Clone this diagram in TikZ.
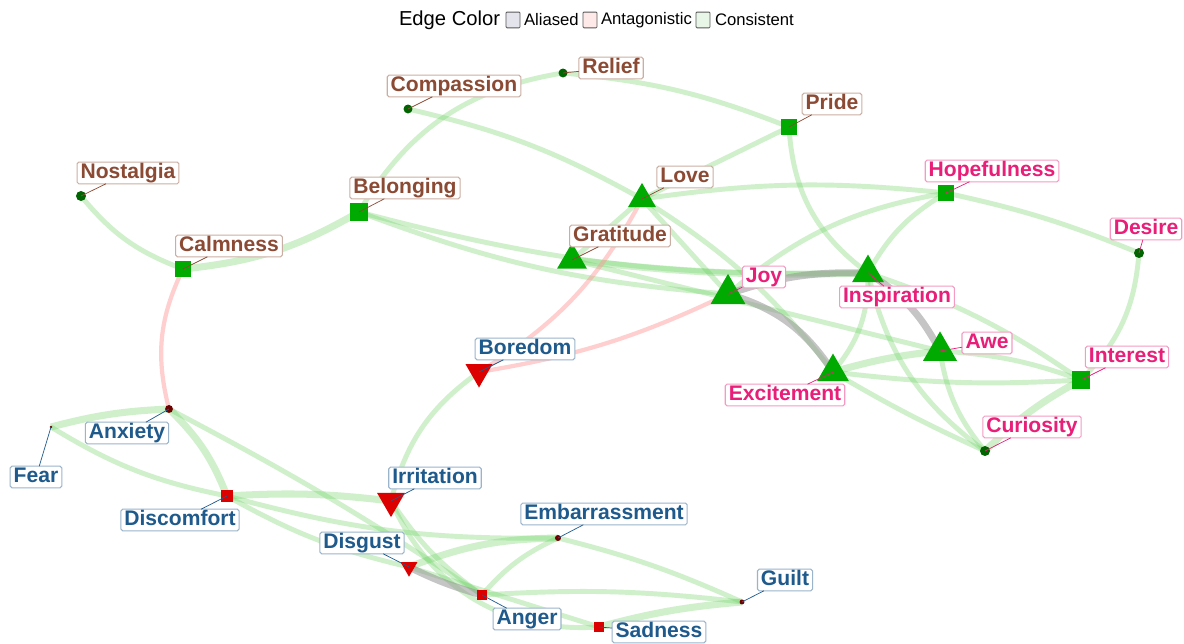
\documentclass[tikz,border=0pt]{standalone}
\usepackage{fontspec}
\setmainfont{Liberation Sans}
\usetikzlibrary{shapes.geometric, backgrounds}

\definecolor{brownlab}{RGB}{139,74,51}
\definecolor{pinklab}{RGB}{232,30,120}
\definecolor{bluelab}{RGB}{30,90,140}
\definecolor{nodegreen}{RGB}{0,170,0}
\definecolor{dotgreen}{RGB}{0,100,0}
\definecolor{nodered}{RGB}{220,0,0}
\definecolor{dotred}{RGB}{110,0,0}
\definecolor{consgreen}{RGB}{110,210,100}
\definecolor{antared}{RGB}{255,150,150}
\definecolor{aliasgrey}{RGB}{150,150,150}
\definecolor{legalias}{RGB}{228,228,236}
\definecolor{legant}{RGB}{255,232,232}
\definecolor{legcons}{RGB}{232,246,232}

\begin{document}
\begin{tikzpicture}
[x=0.02cm, y=-0.02cm,
every node/.style={inner sep=0pt, outer sep=0pt},
gdot/.style={circle, fill=dotgreen, minimum size=#1},
rdot/.style={circle, fill=dotred, minimum size=#1},
gsq/.style={rectangle, fill=nodegreen, minimum size=#1},
rsq/.style={rectangle, fill=nodered, minimum size=#1},
gtri/.style={regular polygon, regular polygon sides=3, fill=nodegreen, minimum size=#1},
rtri/.style={regular polygon, regular polygon sides=3, shape border rotate=180, fill=nodered, minimum size=#1},
lab/.style={draw=#1!45, text=#1, fill=white, rounded corners=1pt, line width=0.6pt,
  inner xsep=2pt, inner ysep=0.6pt, text height=8.8pt, text depth=2.3pt,
  font=\bfseries\fontsize{12}{13}\selectfont},
ptr/.style={draw=#1, line width=0.4pt},
cons/.style={draw=consgreen, draw opacity=0.33, line width=2.8pt},
consthick/.style={cons, line width=4pt},
anta/.style={draw=antared, draw opacity=0.45, line width=2.4pt},
alias/.style={draw=aliasgrey, draw opacity=0.55, line width=4pt},
legbox/.style={draw=gray!70!black, line width=0.5pt, minimum width=8pt, minimum height=9pt, rounded corners=0.6pt},
legtxt/.style={anchor=west, font=\fontsize{9.5}{11}\selectfont}
]

\useasboundingbox (0,0) rectangle (1184,644);

% where the emotions sit
\path
(81,196) coordinate (nost)
(183,269) coordinate (calm)
(359,212) coordinate (belong)
(408,109) coordinate (comp)
(563,73) coordinate (relief)
(789,127) coordinate (pride)
(642,199) coordinate (love)
(572,260) coordinate (grat)
(728,294) coordinate (joy)
(868,273) coordinate (insp)
(946,193) coordinate (hope)
(1139,253) coordinate (desire)
(940,351) coordinate (awe)
(833,372) coordinate (excite)
(1081,380) coordinate (interest)
(985,451) coordinate (curio)
(479,372) coordinate (boredom)
(169,409) coordinate (anx)
(51,427) coordinate (fear)
(227,496) coordinate (disc)
(391,501) coordinate (irr)
(409,567) coordinate (disgust)
(558,538) coordinate (embar)
(482,595) coordinate (anger)
(599,627) coordinate (sad)
(742,602) coordinate (guilt)
;

% markers
\path foreach \x/\w in {nost/5.7pt, comp/5.1pt, relief/5.1pt, desire/5.7pt, curio/5.7pt}
{(\x) node[gdot=\w] (n-\x) {}};
\path foreach \x/\w in {anx/4.5pt, fear/1.7pt, embar/3.4pt, guilt/2.8pt}
{(\x) node[rdot=\w] (n-\x) {}};
\path foreach \x/\w in {calm/9.6pt, belong/10.2pt, pride/9.6pt, hope/9.1pt, interest/10.2pt}
{(\x) node[gsq=\w] (n-\x) {}};
\path foreach \x/\w in {disc/6.8pt, anger/6.2pt, sad/5.7pt}
{(\x) node[rsq=\w] (n-\x) {}};
\path foreach \x/\w in {joy/22.9pt, love/18.3pt, grat/19.6pt, insp/21pt, awe/22.3pt, excite/21pt}
{(\x) node[gtri=\w] (n-\x) {}};
\path foreach \x/\w in {boredom/17.7pt, irr/18.3pt, disgust/11.1pt}
{(\x) node[rtri=\w] (n-\x) {}};

% edges behind everything
\begin{pgfonlayer}{background}
\fill[white] (0,0) rectangle (1184,644);
\foreach \a/\b/\t in {nost/calm/-15, belong/relief/25, comp/love/8, relief/pride/8,
  pride/love/0, pride/insp/-25, love/hope/7, love/joy/0, love/excite/10, love/grat/0,
  belong/joy/-8, belong/insp/-8, grat/awe/0, joy/hope/15, insp/hope/15,
  hope/desire/5, desire/interest/20, insp/excite/20, insp/interest/8, insp/curio/-20,
  excite/interest/-5, excite/curio/-3, awe/interest/8, awe/curio/-15,
  boredom/irr/-20, fear/disc/-10, anx/anger/3, disc/embar/-8, disc/disgust/-8,
  irr/anger/-10, irr/sad/-35, disgust/sad/0, anger/embar/12, anger/guilt/5, embar/guilt/5}
  \draw[cons] (n-\a.center) to[bend left=\t] (n-\b.center);
\foreach \a/\b/\t in {calm/belong/-12, grat/insp/-4, excite/awe/5, interest/curio/-8,
  fear/anx/6, anx/disc/12, disc/irr/5, disgust/embar/10, sad/guilt/5}
  \draw[consthick] (n-\a.center) to[bend left=\t] (n-\b.center);
\foreach \a/\b/\t in {calm/anx/-20, love/boredom/15, joy/boredom/8}
  \draw[anta] (n-\a.center) to[bend left=\t] (n-\b.center);
\foreach \a/\b/\t in {joy/insp/10, insp/awe/15, joy/excite/20, disgust/anger/-5}
  \draw[alias] (n-\a.center) to[bend left=\t] (n-\b.center);
\end{pgfonlayer}

% labels with pointers
\foreach \x/\t/\u/\v in {nost/Nostalgia/128/173, calm/Calmness/229/246, belong/Belonging/405/188,
  comp/Compassion/454/86, relief/Relief/611/68, pride/Pride/832/104, love/Love/685/177,
  grat/Gratitude/620/236}
{\node[lab=brownlab] (l-\x) at (\u,\v) {\t};
 \draw[ptr=brownlab] (n-\x.center) -- (l-\x);}
\foreach \x/\t/\u/\v in {joy/Joy/764/277, insp/Inspiration/897/297, hope/Hopefulness/992/171,
  desire/Desire/1146/229, awe/Awe/987/343, interest/Interest/1127/357,
  excite/Excitement/785/395, curio/Curiosity/1032/427}
{\node[lab=pinklab] (l-\x) at (\u,\v) {\t};
 \draw[ptr=pinklab] (n-\x.center) -- (l-\x);}
\foreach \x/\t/\u/\v in {boredom/Boredom/525/349, anx/Anxiety/127/433, fear/Fear/36/477,
  disc/Discomfort/180/520, irr/Irritation/435/478, disgust/Disgust/362/543,
  embar/Embarrassment/604/514, anger/Anger/527/619, sad/Sadness/659/632, guilt/Guilt/785/580}
{\node[lab=bluelab] (l-\x) at (\u,\v) {\t};
 \draw[ptr=bluelab] (n-\x.center) -- (l-\x);}

% legend
\node[anchor=west, font=\fontsize{11.5}{12}\selectfont] (leg-title) at (399,20) {Edge Color};
\node[legbox, fill=legalias] (leg-b1) at (513,20) {};
\node[legtxt] (leg-t1) at (524,20) {Aliased};
\node[legbox, fill=legant] (leg-b2) at (590,20) {};
\node[legtxt] (leg-t2) at (601,20) {Antagonistic};
\node[legbox, fill=legcons] (leg-b3) at (703,20) {};
\node[legtxt] (leg-t3) at (715,20) {Consistent};

\end{tikzpicture}
\end{document}
